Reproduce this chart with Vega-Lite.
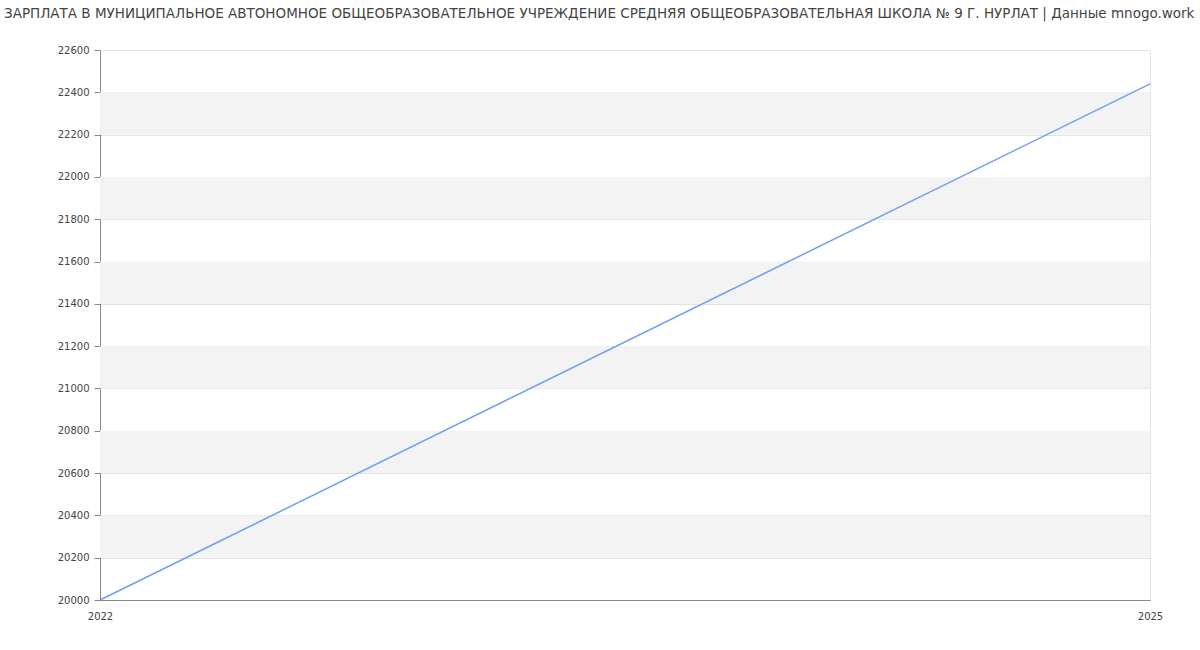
{
  "$schema": "https://vega.github.io/schema/vega-lite/v6.json",
  "width": 1050,
  "height": 550,
  "autosize": {"type": "none"},
  "padding": {"left": 100, "top": 50, "right": 50, "bottom": 50},
  "background": "white",
  "config": {
    "view": {"stroke": "#e6e6e6"},
    "font": "DejaVu Sans"
  },
  "title": {
    "text": "ЗАРПЛАТА В МУНИЦИПАЛЬНОЕ АВТОНОМНОЕ ОБЩЕОБРАЗОВАТЕЛЬНОЕ УЧРЕЖДЕНИЕ СРЕДНЯЯ ОБЩЕОБРАЗОВАТЕЛЬНАЯ ШКОЛА № 9 Г. НУРЛАТ | Данные mnogo.work",
    "anchor": "start",
    "frame": "group",
    "dx": -96,
    "offset": 32,
    "dy": 7,
    "font": "DejaVu Sans",
    "fontSize": 13.5,
    "fontWeight": "normal",
    "color": "#444444"
  },
  "datasets": {
    "bands": [
      {"y0": 20200, "y1": 20400},
      {"y0": 20600, "y1": 20800},
      {"y0": 21000, "y1": 21200},
      {"y0": 21400, "y1": 21600},
      {"y0": 21800, "y1": 22000},
      {"y0": 22200, "y1": 22400}
    ],
    "salary": [
      {"year": 2022, "value": 20000},
      {"year": 2025, "value": 22440}
    ]
  },
  "layer": [
    {
      "data": {"name": "bands"},
      "mark": {"type": "rect", "color": "#f3f3f3"},
      "encoding": {
        "y": {"field": "y0", "type": "quantitative", "scale": {"domain": [20000, 22600], "nice": false, "zero": false}},
        "y2": {"field": "y1"}
      }
    },
    {
      "data": {"name": "salary"},
      "mark": {"type": "line", "color": "#6f9ef2", "strokeWidth": 1.5},
      "encoding": {
        "x": {
          "field": "year", "type": "quantitative",
          "scale": {"domain": [2022, 2025], "nice": false, "zero": false},
          "axis": {
            "title": null, "values": [2022, 2025], "format": "d",
            "grid": false, "ticks": false, "domainColor": "#888888",
            "labelColor": "#444444", "labelFontSize": 10, "labelPadding": 11,
            "labelFlush": false, "labelFont": "DejaVu Sans"
          }
        },
        "y": {
          "field": "value", "type": "quantitative",
          "scale": {"domain": [20000, 22600], "nice": false, "zero": false},
          "axis": {
            "title": null, "values": [20000,20200,20400,20600,20800,21000,21200,21400,21600,21800,22000,22200,22400,22600],
            "format": "d", "gridColor": "#e3e3e3", "domainColor": "#888888",
            "tickColor": "#888888", "tickSize": 6, "labelPadding": 5,
            "labelColor": "#444444", "labelFontSize": 10, "labelFont": "DejaVu Sans"
          }
        }
      }
    }
  ]
}
